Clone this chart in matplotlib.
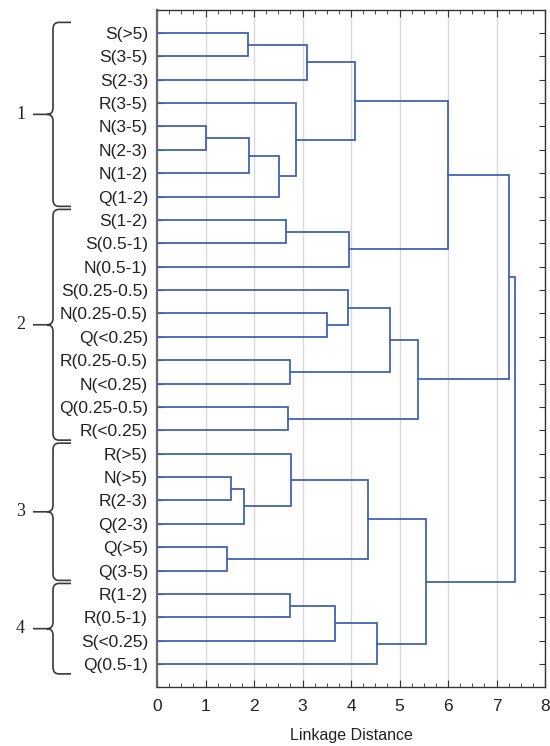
import matplotlib.pyplot as plt
from matplotlib.path import Path
from matplotlib.patches import PathPatch
from matplotlib import transforms
from matplotlib.ticker import MultipleLocator

plt.rcParams['font.family'] = ['Liberation Sans', 'DejaVu Sans']

# Leaf labels, top to bottom
leaves = ['S(>5)', 'S(3-5)', 'S(2-3)', 'R(3-5)', 'N(3-5)', 'N(2-3)', 'N(1-2)', 'Q(1-2)',
          'S(1-2)', 'S(0.5-1)', 'N(0.5-1)', 'S(0.25-0.5)', 'N(0.25-0.5)', 'Q(<0.25)',
          'R(0.25-0.5)', 'N(<0.25)', 'Q(0.25-0.5)', 'R(<0.25)',
          'R(>5)', 'N(>5)', 'R(2-3)', 'Q(2-3)', 'Q(>5)', 'Q(3-5)',
          'R(1-2)', 'R(0.5-1)', 'S(<0.25)', 'Q(0.5-1)']

# Merge steps: child a, child b, linkage distance
# (ids below 28 are leaves, 28+ are earlier merges in this order)
merge_a = [0, 28, 4, 30, 31, 3, 29, 8, 35, 34, 12, 11, 14, 39, 16, 41, 37,
           19, 45, 18, 22, 47, 24, 50, 51, 49, 44]
merge_b = [1, 2, 5, 6, 7, 32, 33, 9, 10, 36, 13, 38, 15, 40, 17, 42, 43,
           20, 21, 46, 23, 48, 25, 26, 27, 52, 53]
merge_dist = [1.88, 3.10, 1.02, 1.90, 2.52, 2.86, 4.08, 2.66, 3.96, 6.00,
              3.51, 3.94, 2.74, 4.81, 2.70, 5.38, 7.26,
              1.52, 1.80, 2.77, 1.45, 4.35, 2.74, 3.66, 4.54, 5.55, 7.39]

# Cluster braces on the left
group_names = ['1', '2', '3', '4']
group_first = [0, 8, 18, 24]
group_last = [7, 17, 23, 27]

line_col = '#4263b5'

fig = plt.figure(figsize=(5.5, 7.46), dpi=100)
ax = fig.add_axes([157 / 550, 1 - 687 / 746, 388 / 550, 677 / 746])

# dendrogram links
n = len(leaves)
pos = [float(i) for i in range(n)]
hgt = [0.0] * n
for a, b, d in zip(merge_a, merge_b, merge_dist):
    ax.plot([hgt[a], d, d, hgt[b]], [pos[a], pos[a], pos[b], pos[b]],
            color=line_col, lw=1.3, solid_joinstyle='miter', zorder=3)
    pos.append((pos[a] + pos[b]) / 2)
    hgt.append(d)

ax.set_xlim(0, 8)
ax.set_ylim(n - 0.02, -0.98)
ax.xaxis.set_major_locator(MultipleLocator(1))
ax.xaxis.set_minor_locator(MultipleLocator(0.25))
ax.set_yticks(range(n))
ax.set_yticklabels(leaves)
ax.grid(axis='x', color='#d9d9d9', lw=1)
ax.set_axisbelow(True)

ax.tick_params(axis='x', which='major', direction='in', length=5, top=True,
               labelsize=12.5, pad=8.5, color='#333333', labelcolor='#222222')
ax.tick_params(axis='x', which='minor', direction='in', length=3, top=True,
               color='#333333')
ax.tick_params(axis='y', direction='in', length=4, right=True,
               labelsize=12.5, pad=6.5, color='#333333', labelcolor='#222222')
for s in ax.spines.values():
    s.set_color('#333333')
    s.set_linewidth(1.0)
ax.spines['left'].set_color('#6a6a6a')
ax.spines['left'].set_linewidth(1.6)

ax.set_xlabel('Linkage Distance', fontsize=11.5, labelpad=10, color='#222222')

# braces: x in inches (figure), y in data units
trans = transforms.blended_transform_factory(fig.dpi_scale_trans, ax.transData)
tip, sp, pt, rx, ry = 0.71, 0.53, 0.33, 0.06, 0.28
for name, f, l in zip(group_names, group_first, group_last):
    top = f - 0.45
    bot = l + 0.42
    mid = (top + bot) / 2
    verts = [(tip, top), (sp + rx, top), (sp, top), (sp, top + ry),
             (sp, mid - ry), (sp, mid), (sp - rx, mid), (pt, mid),
             (sp - rx, mid), (sp, mid), (sp, mid + ry),
             (sp, bot - ry), (sp, bot), (sp + rx, bot), (tip, bot)]
    codes = [Path.MOVETO, Path.LINETO, Path.CURVE3, Path.CURVE3,
             Path.LINETO, Path.CURVE3, Path.CURVE3, Path.LINETO,
             Path.MOVETO, Path.CURVE3, Path.CURVE3,
             Path.LINETO, Path.CURVE3, Path.CURVE3, Path.LINETO]
    ax.add_patch(PathPatch(Path(verts, codes), fill=False, edgecolor='#3a3a3a',
                           lw=1.2, transform=trans, clip_on=False))
    ax.text(0.205, mid, name, transform=trans, ha='center', va='center',
            fontsize=13, family=['Liberation Serif', 'DejaVu Serif'], color='#222222')

fig.savefig('out.png', dpi=100)
